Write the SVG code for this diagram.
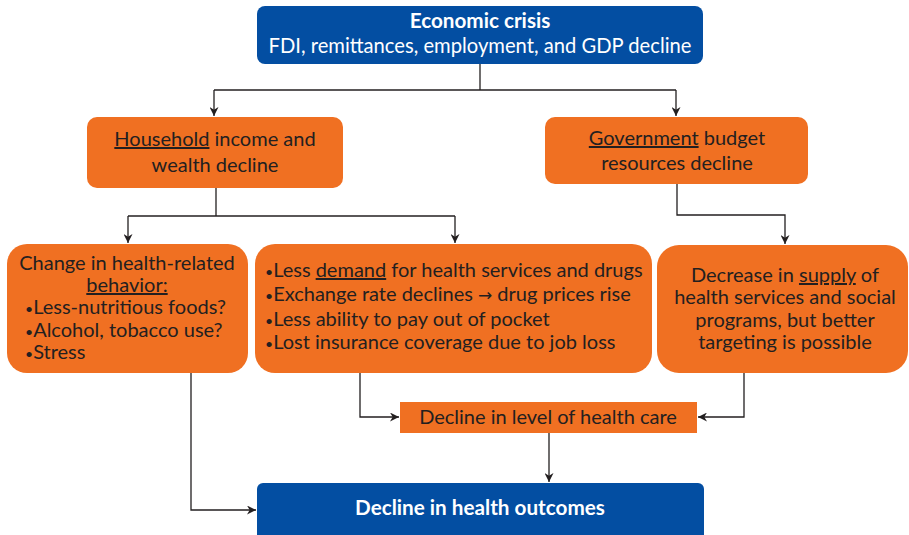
<svg xmlns="http://www.w3.org/2000/svg" width="909" height="535" viewBox="0 0 909 535">
<defs>
<marker id="ah" viewBox="0 0 10 10" refX="10" refY="5" markerWidth="9" markerHeight="9" markerUnits="userSpaceOnUse" orient="auto">
<path d="M0,0 L10,5 L0,10 L3,5 Z" fill="#231F20"/>
</marker>
<style>
.blue{fill:#034EA2}
.orange{fill:#F07022}
.t{font-family:Lato,"Open Sans",sans-serif;font-size:20px;fill:#231F20}
.w{font-family:Lato,"Open Sans",sans-serif;font-size:20.2px;fill:#FFFFFF}
.b{font-weight:bold;font-size:20.7px}
.c{text-anchor:middle}
.u{text-decoration:underline}
.bl{font-size:14px}
.arr{font-family:"DejaVu Sans",sans-serif;font-size:17px}
.ln{fill:none;stroke:#231F20;stroke-width:1.3}
</style>
</defs>
<g id="connectors">
<path class="ln" d="M480,64 V90"/>
<path class="ln" d="M214,90 H676"/>
<path class="ln" d="M214,90 V116" marker-end="url(#ah)"/>
<path class="ln" d="M676,90 V116" marker-end="url(#ah)"/>
<path class="ln" d="M216,188 V216"/>
<path class="ln" d="M128,216 H455"/>
<path class="ln" d="M128,216 V243" marker-end="url(#ah)"/>
<path class="ln" d="M455,216 V243" marker-end="url(#ah)"/>
<path class="ln" d="M677,184 V215 H785 V244" marker-end="url(#ah)"/>
<path class="ln" d="M191,373 V510 H256" marker-end="url(#ah)"/>
<path class="ln" d="M360,373 V417 H399" marker-end="url(#ah)"/>
<path class="ln" d="M744,373 V417 H698" marker-end="url(#ah)"/>
<path class="ln" d="M549,433 V482" marker-end="url(#ah)"/>
</g>
<g id="economic-crisis">
<rect class="blue" x="257" y="6" width="446" height="58" rx="8"/>
<text class="w b c" x="480" y="28">Economic crisis</text>
<text class="w c" x="480" y="53">FDI, remittances, employment, and GDP decline</text>
</g>
<g id="household">
<rect class="orange" x="87" y="117" width="256" height="71" rx="10"/>
<text class="t c" x="215" y="146"><tspan class="u">Household</tspan> income and</text>
<text class="t c" x="215" y="172">wealth decline</text>
</g>
<g id="government">
<rect class="orange" x="545" y="117" width="263" height="67" rx="10"/>
<text class="t c" x="677" y="145"><tspan class="u">Government</tspan> budget</text>
<text class="t c" x="677" y="170">resources decline</text>
</g>
<g id="behavior">
<rect class="orange" x="7" y="244" width="241" height="129" rx="20"/>
<text class="t c" x="127" y="270">Change in health-related</text>
<text class="t c u" x="127" y="292">behavior:</text>
<text class="t" x="25" y="314"><tspan class="bl">•</tspan>Less-nutritious foods?</text>
<text class="t" x="25" y="337"><tspan class="bl">•</tspan>Alcohol, tobacco use?</text>
<text class="t" x="25" y="359"><tspan class="bl">•</tspan>Stress</text>
</g>
<g id="demand">
<rect class="orange" x="255" y="244" width="397" height="129" rx="20"/>
<text class="t" x="265" y="277"><tspan class="bl">•</tspan>Less <tspan class="u">demand</tspan> for health services and drugs</text>
<text class="t" x="265" y="301"><tspan class="bl">•</tspan>Exchange rate declines <tspan class="arr">→</tspan> drug prices rise</text>
<text class="t" x="265" y="326"><tspan class="bl">•</tspan>Less ability to pay out of pocket</text>
<text class="t" x="265" y="349"><tspan class="bl">•</tspan>Lost insurance coverage due to job loss</text>
</g>
<g id="supply">
<rect class="orange" x="657" y="245" width="251" height="128" rx="22"/>
<text class="t c" x="785" y="282"><tspan>Decrease in </tspan><tspan class="u">supply</tspan><tspan> of</tspan></text>
<text class="t c" x="785" y="304">health services and social</text>
<text class="t c" x="785" y="327">programs, but better</text>
<text class="t c" x="785" y="349">targeting is possible</text>
</g>
<g id="health-care">
<rect class="orange" x="400" y="402" width="297" height="31"/>
<text class="t c" x="548" y="424">Decline in level of health care</text>
</g>
<g id="health-outcomes">
<rect class="blue" x="257" y="483" width="447" height="58" rx="6"/>
<text class="w b c" x="480" y="515">Decline in health outcomes</text>
</g>
</svg>
